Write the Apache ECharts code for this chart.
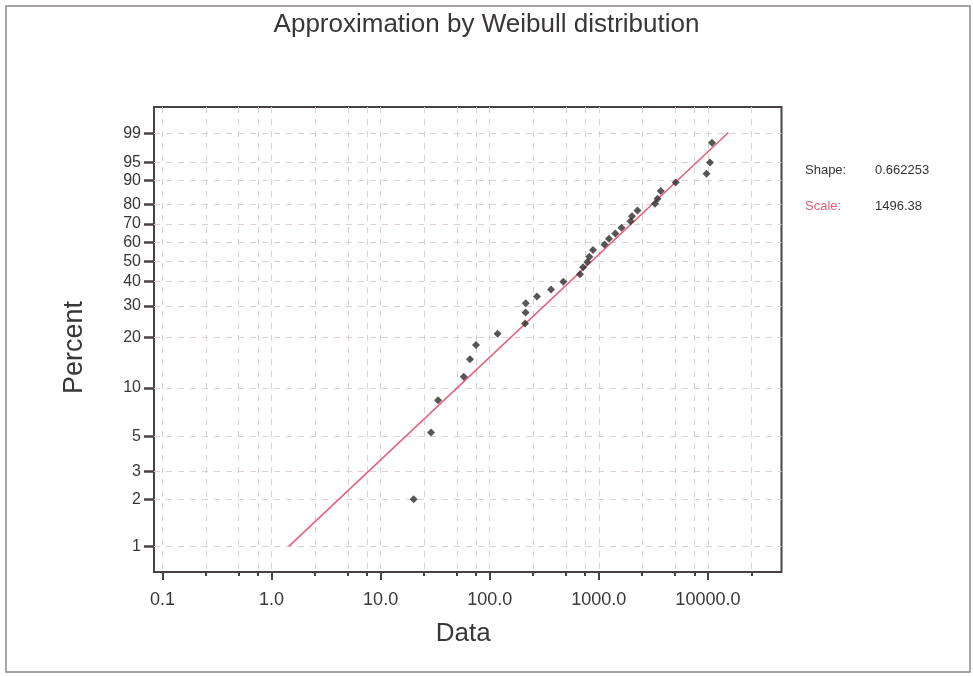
<!DOCTYPE html>
<html>
<head>
<meta charset="utf-8">
<title>Approximation by Weibull distribution</title>
<script src="https://cdn.jsdelivr.net/npm/echarts@6/dist/echarts.min.js"></script>
<style>
  html, body { margin: 0; padding: 0; background: #ffffff; }
  #chart { width: 973px; height: 676px; }
</style>
</head>
<body>
<div id="chart"></div>
<script>
// Observed values (sorted) and their plotting positions in percent
const obsData = [20.1, 29.0, 33.6, 57.8, 66.0, 74.9, 118, 211, 213, 214, 271, 365,
  473, 672, 717, 785, 818, 885, 1128, 1240, 1416, 1614, 1952, 2015, 2263, 3275,
  3451, 3694, 5069, 9710, 10450, 10900];
const obsPercent = [2.0, 5.3, 8.4, 11.7, 14.9, 18.1, 21.0, 24.0, 27.6, 31.0, 33.6,
  36.6, 40.0, 43.5, 46.9, 49.6, 52.3, 55.9, 58.9, 61.9, 64.8, 67.9, 71.4, 74.1,
  77.0, 80.3, 82.6, 86.0, 89.2, 92.1, 95.0, 98.2];

// Fitted Weibull parameters
const weibullShape = 0.662253;
const weibullScale = 1496.38;

// Data range covered by the fitted line
const fitData = [1.44, 15400];

// Axis ticks and extents
const percentTicks = [1, 2, 3, 5, 10, 20, 30, 40, 50, 60, 70, 80, 90, 95, 99];
const dataMajorTicks = [0.1, 1, 10, 100, 1000, 10000];
const dataMinorTicks = [0.25, 0.5, 0.75, 2.5, 5, 7.5, 25, 50, 75, 250, 500, 750,
  2500, 5000, 7500, 25000];
const dataRange = [0.0837, 47270];
const percentRange = [0.684, 99.8925];

// Weibull probability scale: percent -> ln(-ln(1 - p))
const wb = p => Math.log(-Math.log(1 - p / 100));
const wbInv = w => 100 * (1 - Math.exp(-Math.exp(w)));
const lg = v => Math.log10(v);

// Fitted CDF on the probability scale
const fitW = x => weibullShape * (Math.log(x) - Math.log(weibullScale));

const FONT = 'Liberation Sans, Arial, sans-serif';
const INK = '#3a3636';
const FRAME = '#4a4242';
const GRID = { color: '#dcd0d0', type: [6, 6], width: 1 };

const chart = echarts.init(document.getElementById('chart'), null, { renderer: 'canvas' });

chart.setOption({
  animation: false,
  backgroundColor: '#ffffff',
  title: {
    text: 'Approximation by Weibull distribution',
    left: 'center',
    top: 7,
    textStyle: { fontFamily: FONT, fontSize: 26, fontWeight: 'normal', color: INK }
  },
  grid: {
    left: 154, right: 191.5, top: 107, bottom: 104,
    show: true, borderColor: FRAME, borderWidth: 2, backgroundColor: 'transparent'
  },
  xAxis: [
    {
      type: 'value',
      position: 'bottom',
      min: lg(dataRange[0]),
      max: lg(dataRange[1]),
      axisLine: { show: false, onZero: false },
      axisTick: {
        show: true, length: 8, customValues: dataMajorTicks.map(lg),
        lineStyle: { color: FRAME, width: 2 }
      },
      axisLabel: {
        customValues: dataMajorTicks.map(lg),
        formatter: v => Math.pow(10, v).toFixed(1),
        fontFamily: FONT, fontSize: 18, color: INK, margin: 19
      },
      splitLine: { show: true, lineStyle: GRID },
      name: 'Data',
      nameLocation: 'middle',
      nameGap: 49,
      nameTextStyle: { fontFamily: FONT, fontSize: 26, color: INK, padding: [0, 9, 0, 0] }
    },
    {
      type: 'value',
      position: 'bottom',
      min: lg(dataRange[0]),
      max: lg(dataRange[1]),
      axisLine: { show: false, onZero: false },
      axisTick: {
        show: true, length: 4, customValues: dataMinorTicks.map(lg),
        lineStyle: { color: FRAME, width: 2 }
      },
      axisLabel: { show: false },
      splitLine: { show: true, lineStyle: GRID }
    }
  ],
  yAxis: {
    type: 'value',
    position: 'left',
    min: wb(percentRange[0]),
    max: wb(percentRange[1]),
    axisLine: { show: false, onZero: false },
    axisTick: {
      show: true, length: 10, customValues: percentTicks.map(wb),
      lineStyle: { color: FRAME, width: 2.5 }
    },
    axisLabel: {
      customValues: percentTicks.map(wb),
      formatter: v => String(Math.round(wbInv(v))),
      fontFamily: FONT, fontSize: 16, color: INK, margin: 13
    },
    splitLine: { show: true, lineStyle: GRID },
    name: 'Percent',
    nameLocation: 'middle',
    nameGap: 66,
    nameRotate: 90,
    nameTextStyle: { fontFamily: FONT, fontSize: 27, color: INK, padding: [0, 16, 0, 0] }
  },
  series: [
    {
      name: 'Weibull fit',
      type: 'line',
      xAxisIndex: 0,
      data: fitData.map(x => [lg(x), fitW(x)]),
      showSymbol: false,
      lineStyle: { color: '#e4607a', width: 1.6 },
      z: 2
    },
    {
      name: 'Data',
      type: 'scatter',
      xAxisIndex: 0,
      data: obsData.map((x, i) => [lg(x), wb(obsPercent[i])]),
      symbol: 'diamond',
      symbolSize: 8,
      itemStyle: { color: '#2e2a2a' },
      z: 3
    }
  ],
  graphic: [
    {
      type: 'rect',
      shape: { x: 6, y: 6, width: 964, height: 666 },
      style: { fill: 'none', stroke: '#8f8787', lineWidth: 1.5 },
      silent: true
    },
    {
      type: 'text', left: 805, top: 164,
      style: { text: 'Shape:', fill: '#333333', font: '13px ' + FONT }
    },
    {
      type: 'text', left: 875, top: 164,
      style: { text: String(weibullShape), fill: '#333333', font: '13px ' + FONT }
    },
    {
      type: 'text', left: 805, top: 200,
      style: { text: 'Scale:', fill: '#e4607a', font: '13px ' + FONT }
    },
    {
      type: 'text', left: 875, top: 200,
      style: { text: String(weibullScale), fill: '#333333', font: '13px ' + FONT }
    }
  ]
});
</script>
</body>
</html>
